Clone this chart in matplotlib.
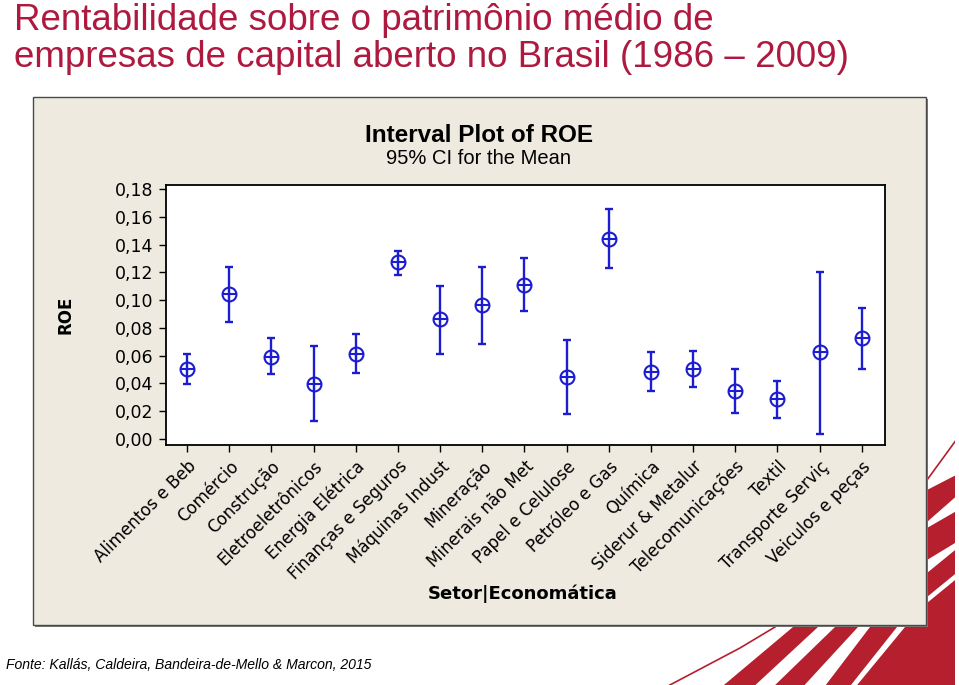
import matplotlib.pyplot as plt
import numpy as np
from matplotlib.patches import Rectangle, Polygon

# Sectors and 95% CI of mean ROE
setores = ['Alimentos e Beb', 'Comércio', 'Construção', 'Eletroeletrônicos',
           'Energia Elétrica', 'Finanças e Seguros', 'Máquinas Indust',
           'Mineração', 'Minerais não Met', 'Papel e Celulose',
           'Petróleo e Gas', 'Química', 'Siderur & Metalur',
           'Telecomunicações', 'Textil', 'Transporte Serviç', 'Veiculos e peças']
media = [0.0504, 0.1042, 0.0593, 0.0396, 0.0614, 0.1272, 0.0862, 0.0962,
         0.1109, 0.0449, 0.1440, 0.0485, 0.0504, 0.0348, 0.0288, 0.0626, 0.0725]
ic_sup = [0.0614, 0.1240, 0.0725, 0.0667, 0.0756, 0.1351, 0.1100, 0.1240,
          0.1300, 0.0713, 0.1656, 0.0624, 0.0634, 0.0506, 0.0418, 0.1202, 0.0945]
ic_inf = [0.0398, 0.0845, 0.0466, 0.0130, 0.0478, 0.1178, 0.0614, 0.0684,
          0.0922, 0.0178, 0.1229, 0.0348, 0.0377, 0.0190, 0.0149, 0.0038, 0.0506]
y_ticks = [0.00, 0.02, 0.04, 0.06, 0.08, 0.10, 0.12, 0.14, 0.16, 0.18]

W, H = 959, 685
azul = '#1c1cd0'
vermelho = '#b51f2e'

fig = plt.figure(figsize=(W / 100, H / 100), dpi=100)
fig.patch.set_facecolor('white')

# background layer in pixel coordinates (slide decoration + beige panel)
bg = fig.add_axes([0, 0, 1, 1])
bg.set_xlim(0, W)
bg.set_ylim(H, 0)
bg.axis('off')

# red stripes in the lower right corner of the slide
faixas = [
    [(718, 690), (793, 627), (927, 490), (960, 473), (960, 493), (927, 522), (818, 627), (750, 690)],
    [(770, 690), (835, 627), (927, 528), (960, 509), (960, 540), (927, 560), (858, 627), (800, 690)],
    [(822, 690), (870, 627), (927, 573), (960, 546), (960, 570), (927, 597), (897, 627), (847, 690)],
    [(853, 690), (905, 627), (927, 603), (960, 576), (960, 700), (853, 700)],
]
for pts in faixas:
    bg.add_patch(Polygon(pts, closed=True, facecolor=vermelho, edgecolor='none', zorder=1))
bg.plot([668, 740, 775, 927, 962], [686, 648, 627, 480, 432], color=vermelho,
        lw=1.2, zorder=1, solid_capstyle='butt')
bg.add_patch(Rectangle((955, 0), 10, H, facecolor='white', edgecolor='none', zorder=2))

bg.add_patch(Rectangle((35, 99), 893, 528, facecolor='#7a7a7a', edgecolor='none', zorder=3))
bg.add_patch(Rectangle((33, 97), 893, 528, facecolor='#eeeae0', edgecolor='#4a4a4a',
                       linewidth=1.0, zorder=4))

# slide title
fig.text(14 / W, 1 - 30 / H, 'Rentabilidade sobre o patrimônio médio de',
         color='#ae1a3f', fontsize=26.5, va='baseline', ha='left', family='Liberation Sans')
fig.text(14 / W, 1 - 67 / H, 'empresas de capital aberto no Brasil (1986 – 2009)',
         color='#ae1a3f', fontsize=26.5, va='baseline', ha='left', family='Liberation Sans')

fig.text(479 / W, 1 - 135 / H, 'Interval Plot of ROE', fontsize=17.5, fontweight='bold',
         ha='center', va='center', family='Liberation Sans')
fig.text(479 / W, 1 - 158 / H, '95% CI for the Mean', fontsize=14.5,
         ha='center', va='center', family='Liberation Sans')

fig.text(6 / W, 1 - 665 / H, 'Fonte: Kallás, Caldeira, Bandeira-de-Mello & Marcon, 2015',
         fontsize=10.1, style='italic', ha='left', va='center', family='Liberation Sans')

# the interval plot
ax = fig.add_axes([166 / W, 1 - 445 / H, (885 - 166) / W, (445 - 185) / H])
ax.set_facecolor('white')
x = np.arange(1, len(setores) + 1)
m = np.array(media)
err = [m - np.array(ic_inf), np.array(ic_sup) - m]
ax.errorbar(x, m, yerr=err, fmt='none', ecolor=azul, elinewidth=1.7,
            capsize=3, capthick=1.7)
ax.plot(x, m, 'o', mfc='none', mec=azul, ms=10, mew=1.5, linestyle='none')
ax.plot(x, m, '+', color=azul, ms=10, mew=1.5, linestyle='none')

ax.set_xlim(0.5, 17.55)
ax.set_ylim(-0.0043, 0.1829)
ax.set_yticks(y_ticks)
ax.set_yticklabels([f'{v:.2f}'.replace('.', ',') for v in y_ticks])
ax.set_xticks(x)
ax.set_xticklabels(setores, rotation=45, ha='right', rotation_mode='anchor')
ax.tick_params(direction='out', length=5, width=1, pad=4)
ax.tick_params(axis='y', labelsize=12.5)
ax.tick_params(axis='x', labelsize=12)
for s in ax.spines.values():
    s.set_linewidth(1.3)

fig.text(66 / W, 1 - 315 / H, 'ROE', rotation=90, fontsize=12, fontweight='bold',
         ha='center', va='center')
fig.text(523 / W, 1 - 594 / H, 'Setor|Economática', fontsize=13, fontweight='bold',
         ha='center', va='center')

fig.savefig('out.png', dpi=100)
